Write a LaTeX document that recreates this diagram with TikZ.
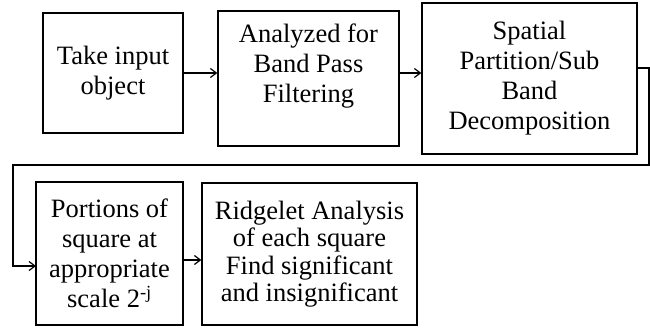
\documentclass[tikz,border=0pt]{standalone}
\usepackage{fontspec}
\usetikzlibrary{arrows.meta}
\setmainfont{Liberation Serif}
\begin{document}
\begin{tikzpicture}[x=1pt,y=-1pt,
  stage/.style={draw,line width=1.3pt,align=center,inner sep=2pt,
    font=\fontsize{26.5}{30}\selectfont},
  link/.style={line width=1.2pt,-{Straight Barb[length=6pt,width=9pt]}}]
\useasboundingbox (0,0) rectangle (650,330);
\node[stage,minimum width=140pt,minimum height=120pt] (take) at (113,73) {Take input\\object};
\node[stage,minimum width=181pt,minimum height=135pt] (analyze) at (308.5,78.5) {Analyzed for\\Band Pass\\Filtering\\\mbox{}};
\node[stage,minimum width=215pt,minimum height=151pt] (split) at (529.5,78.5) {Spatial\\Partition/Sub\\Band\\Decomposition};
\node[stage,minimum width=147pt,minimum height=143pt] (portion) at (109.5,253.5) {Portions of\\square at\\appropriate\\scale 2\textsuperscript{-j}};
\node[stage,minimum width=215pt,minimum height=142pt,font=\fontsize{26.5}{27.5}\selectfont] (ridge) at (309.5,254) {Ridgelet Analysis\\of each square\\Find significant\\and insignificant};
\coordinate (out) at (637,68);
\coordinate (r1) at (649,68);
\coordinate (r2) at (649,165);
\coordinate (l1) at (13,165);
\coordinate (l2) at (13,266);
\coordinate (in) at (36,266);
\draw[link] (take.east) -- (take.east -| analyze.west);
\draw[link] (analyze.east |- take.east) -- (split.west |- take.east);
\draw[link] (out) -- (r1) -- (r2) -- (l1) -- (l2) -- (in);
\draw[link] (portion.east |- 0,260) -- (ridge.west |- 0,260);
\end{tikzpicture}
\end{document}
